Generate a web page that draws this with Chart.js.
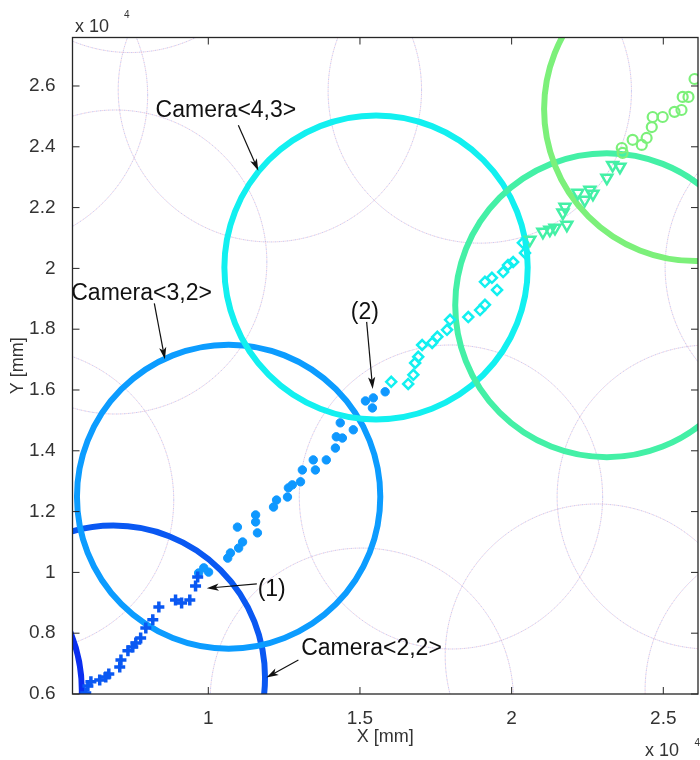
<!DOCTYPE html>
<html><head><meta charset="utf-8">
<script src="https://cdn.jsdelivr.net/npm/chart.js@4.4.1/dist/chart.umd.min.js"></script>
<style>html,body{margin:0;padding:0;background:#fff;}canvas{display:block;}</style>
</head><body>
<canvas id="c" width="700" height="760"></canvas>
<script>
// ---------- data (mm) ----------
const xTicks = [10000, 15000, 20000, 25000];
const xTickLabels = ['1', '1.5', '2', '2.5'];
const yTicks = [6000, 8000, 10000, 12000, 14000, 16000, 18000, 20000, 22000, 24000, 26000];
const yTickLabels = ['0.6', '0.8', '1', '1.2', '1.4', '1.6', '1.8', '2', '2.2', '2.4', '2.6'];

// tracked positions, grouped by the camera that observed them
const track1X = [5960, 6030, 6130, 6420, 6620, 6720, 7080, 7120, 7350, 7510, 7610, 7770, 7940, 8170, 8370, 8920, 9120, 9390, 9580, 9650];
const track1Y = [6030, 6260, 6400, 6460, 6560, 6660, 6890, 7120, 7420, 7550, 7680, 7840, 8170, 8440, 8860, 9090, 8990, 9090, 9550, 9850];

const track2X = [9680, 9850, 10010, 10640, 10730, 11000, 11130, 10960, 11560, 11560, 11620, 12150, 12250, 12610, 12640, 12770, 13040, 13100, 13460, 13530, 13890, 14190, 14220, 14420, 14350, 14780, 15180, 15440, 15410, 15830];
const track2Y = [9980, 10150, 10010, 10470, 10640, 10800, 11000, 11490, 11890, 11660, 11300, 12150, 12380, 12480, 12780, 12880, 12980, 13370, 13700, 13370, 13700, 14090, 14460, 14420, 14920, 14690, 15640, 15740, 15410, 15940];

const track3X = [16030, 16590, 16760, 16820, 16920, 17050, 17380, 17550, 17870, 17970, 18570, 18960, 19120, 19120, 19350, 19520, 19720, 19880, 20050, 20440, 20370];
const track3Y = [16270, 16200, 16500, 16890, 17090, 17480, 17550, 17750, 17980, 18310, 18400, 18630, 18800, 19560, 19690, 19290, 19880, 20110, 20210, 20510, 20840];

const track4X = [20600, 21030, 21260, 21430, 21820, 21690, 21760, 22180, 22410, 22580, 22680, 23140, 23330, 23570];
const track4Y = [20940, 21200, 21270, 21330, 21430, 21830, 22020, 22480, 22250, 22580, 22450, 22980, 23400, 23340];

const track5X = [23630, 23660, 23990, 24290, 24450, 24620, 24650, 24980, 25370, 25600, 25640, 25830, 26030];
const track5Y = [23960, 23800, 24230, 24060, 24290, 24650, 24980, 24980, 25150, 25210, 25640, 25640, 26230];

// camera field-of-view circles (centres in mm)
const camRadius = 5000;
const activeCamX = [830, 6870, 10670, 15530, 23140, 26070];
const activeCamY = [6130, 6540, 12490, 20030, 18790, 25240];
const otherCamX = [7420, 3000, 12030, 18950, 6930, 30060, 3860, 18000, 26500, 15060, 22810, 29400];
const otherCamY = [32100, 25700, 25870, 25830, 20210, 20040, 12380, 12480, 12480, 5800, 7250, 6130];

// ---------- styling / annotations ----------
const FONT = "'Liberation Sans', Arial, Helvetica, sans-serif";
const XMIN = 5523, XMAX = 26144, YMIN = 6000, YMAX = 27595;
const activeCamColors = ['#0a2ef0', '#0a58f2', '#0c9cff', '#12f0f0', '#44f0a6', '#7cf07a'];

const annotations = [
  { text: 'Camera<4,3>', tx: 10580, ty: 25180, from: [10990, 24710], to: [11650, 23210] },
  { text: 'Camera<3,2>', tx: 7800, ty: 19160, from: [8220, 18850], to: [8570, 17010] },
  { text: '(2)', tx: 15160, ty: 18550, from: [15220, 18240], to: [15420, 16030] },
  { text: '(1)', tx: 12090, ty: 9420, from: [11600, 9620], to: [9950, 9480] },
  { text: 'Camera<2,2>', tx: 15380, ty: 7500, from: [12970, 7120], to: [11920, 6540] }
];

function pts(xs, ys) { return xs.map((x, i) => ({ x: x, y: ys[i] })); }

const circlesPlugin = {
  id: 'cameraCircles',
  beforeDatasetsDraw(chart) {
    const { ctx, chartArea: a, scales: { x, y } } = chart;
    const rx = Math.abs(x.getPixelForValue(XMIN + camRadius) - x.getPixelForValue(XMIN));
    const ry = Math.abs(y.getPixelForValue(YMIN + camRadius) - y.getPixelForValue(YMIN));
    ctx.save();
    ctx.beginPath(); ctx.rect(a.left, a.top, a.right - a.left, a.bottom - a.top); ctx.clip();
    ctx.lineWidth = 1;
    [['rgba(140,140,225,0.5)', 0], ['rgba(225,140,170,0.4)', 2]].forEach(([col, off]) => {
      ctx.strokeStyle = col; ctx.setLineDash([1.5, 2.5]); ctx.lineDashOffset = off;
      otherCamX.forEach((cx, i) => {
        ctx.beginPath();
        ctx.ellipse(x.getPixelForValue(cx), y.getPixelForValue(otherCamY[i]), rx, ry, 0, 0, Math.PI * 2);
        ctx.stroke();
      });
    });
    ctx.setLineDash([]);
    ctx.lineWidth = 6;
    activeCamX.forEach((cx, i) => {
      ctx.strokeStyle = activeCamColors[i];
      ctx.beginPath();
      ctx.ellipse(x.getPixelForValue(cx), y.getPixelForValue(activeCamY[i]), rx, ry, 0, 0, Math.PI * 2);
      ctx.stroke();
    });
    ctx.restore();
  }
};

function drawArrow(ctx, x0, y0, x1, y1) {
  const ang = Math.atan2(y1 - y0, x1 - x0), L = 12, W = 3.6;
  const c = Math.cos(ang), s = Math.sin(ang);
  ctx.beginPath(); ctx.moveTo(x0, y0); ctx.lineTo(x1 - L * 0.7 * c, y1 - L * 0.7 * s); ctx.stroke();
  ctx.beginPath();
  ctx.moveTo(x1, y1);
  ctx.lineTo(x1 - L * c + W * s, y1 - L * s - W * c);
  ctx.lineTo(x1 - L * 0.75 * c, y1 - L * 0.75 * s);
  ctx.lineTo(x1 - L * c - W * s, y1 - L * s + W * c);
  ctx.closePath(); ctx.fill();
}

const framePlugin = {
  id: 'frameAndNotes',
  afterDatasetsDraw(chart) {
    const { ctx, chartArea: a, scales: { x, y } } = chart;
    ctx.save();
    ctx.strokeStyle = '#262626'; ctx.lineWidth = 1.3;
    ctx.strokeRect(a.left, a.top, a.right - a.left, a.bottom - a.top);
    ctx.lineWidth = 1; ctx.beginPath();
    xTicks.forEach(v => {
      const p = x.getPixelForValue(v);
      ctx.moveTo(p, a.bottom); ctx.lineTo(p, a.bottom - 7);
      ctx.moveTo(p, a.top); ctx.lineTo(p, a.top + 7);
    });
    yTicks.forEach(v => {
      const p = y.getPixelForValue(v);
      ctx.moveTo(a.left, p); ctx.lineTo(a.left + 7, p);
      ctx.moveTo(a.right, p); ctx.lineTo(a.right - 7, p);
    });
    ctx.stroke();
    ctx.fillStyle = '#333'; ctx.textBaseline = 'middle'; ctx.textAlign = 'left';
    ctx.font = '18px ' + FONT;
    ctx.fillText('x 10', a.left + 2.5, a.top - 10);
    ctx.fillText('x 10', a.right - 53, a.bottom + 57);
    ctx.font = '10px ' + FONT;
    ctx.fillText('4', a.left + 51.5, a.top - 22);
    ctx.fillText('4', a.right - 3.5, a.bottom + 49.5);
    ctx.fillStyle = '#111'; ctx.strokeStyle = '#111'; ctx.lineWidth = 1.2;
    ctx.textAlign = 'center'; ctx.font = '23px ' + FONT;
    annotations.forEach(n => {
      ctx.fillText(n.text, x.getPixelForValue(n.tx), y.getPixelForValue(n.ty));
      drawArrow(ctx, x.getPixelForValue(n.from[0]), y.getPixelForValue(n.from[1]),
                x.getPixelForValue(n.to[0]), y.getPixelForValue(n.to[1]));
    });
    ctx.restore();
  }
};

const NONE = 'rgba(0,0,0,0)';
new Chart(document.getElementById('c'), {
  type: 'scatter',
  data: {
    datasets: [
      { label: 'Camera<2,2>', data: pts(track1X, track1Y), pointStyle: 'cross', pointRadius: 5.5, borderWidth: 3.5, borderColor: '#0a58f2', backgroundColor: '#0a58f2' },
      { label: 'Camera<3,2>', data: pts(track2X, track2Y), pointStyle: 'circle', pointRadius: 4.2, borderWidth: 1, borderColor: '#0f98ff', backgroundColor: '#0f98ff' },
      { label: 'Camera<4,3>', data: pts(track3X, track3Y), pointStyle: 'rectRot', pointRadius: 5, borderWidth: 2.5, borderColor: '#12f0f0', backgroundColor: NONE },
      { label: 'Camera<5,3>', data: pts(track4X, track4Y), pointStyle: 'triangle', rotation: 180, pointRadius: 6.3, borderWidth: 2.5, borderColor: '#44f0a6', backgroundColor: NONE },
      { label: 'Camera<5,4>', data: pts(track5X, track5Y), pointStyle: 'circle', pointRadius: 5, borderWidth: 2.2, borderColor: '#7cf07a', backgroundColor: NONE }
    ]
  },
  options: {
    responsive: false, animation: false, devicePixelRatio: 1,
    layout: { autoPadding: false, padding: { top: 37.5, right: 2, bottom: 0, left: 0 } },
    plugins: { legend: { display: false }, tooltip: { enabled: false } },
    scales: {
      x: {
        type: 'linear', position: 'bottom', min: XMIN, max: XMAX,
        afterBuildTicks: s => { s.ticks = xTicks.map(v => ({ value: v })); },
        afterFit: s => { s.height = 66; s.paddingLeft = 0; s.paddingRight = 0; },
        grid: { display: false }, border: { display: false },
        ticks: { autoSkip: false, maxRotation: 0, padding: 5, color: '#333', font: { family: FONT, size: 19 }, callback: (v, i) => xTickLabels[i] },
        title: { display: true, text: 'X [mm]', color: '#333', font: { family: FONT, size: 18 }, padding: { top: 0, bottom: 12 } }
      },
      y: {
        type: 'linear', position: 'left', min: YMIN, max: YMAX,
        afterBuildTicks: s => { s.ticks = yTicks.map(v => ({ value: v })); },
        afterFit: s => { s.width = 72.5; s.paddingTop = 0; s.paddingBottom = 0; },
        grid: { display: false }, border: { display: false },
        ticks: { autoSkip: false, padding: 9, color: '#333', font: { family: FONT, size: 19 }, callback: (v, i) => yTickLabels[i] },
        title: { display: true, text: 'Y [mm]', color: '#333', font: { family: FONT, size: 18 }, padding: { top: 7, bottom: 0 } }
      }
    }
  },
  plugins: [circlesPlugin, framePlugin]
});
</script>
</body></html>
